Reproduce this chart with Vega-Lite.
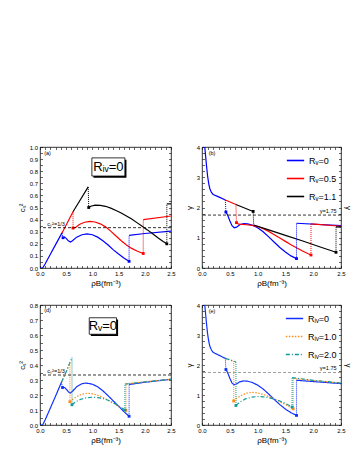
{
"$schema":"https://vega.github.io/schema/vega-lite/v6.json",
"background":"white",
"padding":{"left":17,"top":143,"right":2,"bottom":2},
"config":{"font":"Liberation Sans","view":{"stroke":"#000","strokeWidth":0.8},
"axis":{"grid":false,"domain":false,"tickColor":"#000","tickSize":-2.5,"tickWidth":0.6,"labelFontSize":6,"labelColor":"#000","titleFontSize":8,"titleFontWeight":"normal","titleColor":"#000","labelPadding":5,"titlePadding":3,"labelOverlap":false,"labelFlush":false},
"legend":{"orient":"top-right","title":null,"labelFontSize":9,"symbolType":"stroke","symbolStrokeWidth":1.6,"symbolSize":300,"rowPadding":3,"offset":4,"labelLimit":120,"labelColor":"#000"}},
"resolve":{"scale":{"color":"independent","strokeDash":"independent"},"legend":{"color":"independent","strokeDash":"independent"}},
"spacing":13,
"datasets":{
"a":[
{"s":"Rᵥ=0","g":1,"k":"c","x":0,"y":0},{"s":"Rᵥ=0","g":1,"k":"c","x":0.05,"y":0},{"s":"Rᵥ=0","g":1,"k":"c","x":0.1,"y":0.035},{"s":"Rᵥ=0","g":1,"k":"c","x":0.2,"y":0.115},{"s":"Rᵥ=0","g":1,"k":"c","x":0.3,"y":0.195},{"s":"Rᵥ=0","g":1,"k":"c","x":0.42,"y":0.29},
{"s":"Rᵥ=0","g":2,"k":"j","x":0.42,"y":0.29},{"s":"Rᵥ=0","g":2,"k":"j","x":0.44,"y":0.25},
{"s":"Rᵥ=0","g":3,"k":"c","x":0.44,"y":0.25},{"s":"Rᵥ=0","g":3,"k":"c","x":0.47,"y":0.255},{"s":"Rᵥ=0","g":3,"k":"c","x":0.5,"y":0.245},{"s":"Rᵥ=0","g":3,"k":"c","x":0.54,"y":0.225},{"s":"Rᵥ=0","g":3,"k":"c","x":0.58,"y":0.215},{"s":"Rᵥ=0","g":3,"k":"c","x":0.62,"y":0.225},{"s":"Rᵥ=0","g":3,"k":"c","x":0.7,"y":0.255},{"s":"Rᵥ=0","g":3,"k":"c","x":0.8,"y":0.275},{"s":"Rᵥ=0","g":3,"k":"c","x":0.9,"y":0.282},{"s":"Rᵥ=0","g":3,"k":"c","x":1.0,"y":0.275},{"s":"Rᵥ=0","g":3,"k":"c","x":1.1,"y":0.255},{"s":"Rᵥ=0","g":3,"k":"c","x":1.2,"y":0.225},{"s":"Rᵥ=0","g":3,"k":"c","x":1.3,"y":0.19},{"s":"Rᵥ=0","g":3,"k":"c","x":1.4,"y":0.15},{"s":"Rᵥ=0","g":3,"k":"c","x":1.5,"y":0.115},{"s":"Rᵥ=0","g":3,"k":"c","x":1.6,"y":0.082},{"s":"Rᵥ=0","g":3,"k":"c","x":1.7,"y":0.055},
{"s":"Rᵥ=0","g":4,"k":"j","x":1.7,"y":0.055},{"s":"Rᵥ=0","g":4,"k":"j","x":1.7,"y":0.27},
{"s":"Rᵥ=0","g":5,"k":"c","x":1.7,"y":0.27},{"s":"Rᵥ=0","g":5,"k":"c","x":2.0,"y":0.285},{"s":"Rᵥ=0","g":5,"k":"c","x":2.5,"y":0.305},
{"s":"Rᵥ=0","g":6,"k":"m","x":0.44,"y":0.25},{"s":"Rᵥ=0","g":6,"k":"m","x":1.7,"y":0.055},
{"s":"Rᵥ=0.5","g":1,"k":"c","x":0.42,"y":0.29},{"s":"Rᵥ=0.5","g":1,"k":"c","x":0.5,"y":0.355},{"s":"Rᵥ=0.5","g":1,"k":"c","x":0.63,"y":0.465},
{"s":"Rᵥ=0.5","g":2,"k":"j","x":0.63,"y":0.465},{"s":"Rᵥ=0.5","g":2,"k":"j","x":0.631,"y":0.33},
{"s":"Rᵥ=0.5","g":3,"k":"c","x":0.63,"y":0.33},{"s":"Rᵥ=0.5","g":3,"k":"c","x":0.68,"y":0.335},{"s":"Rᵥ=0.5","g":3,"k":"c","x":0.75,"y":0.36},{"s":"Rᵥ=0.5","g":3,"k":"c","x":0.85,"y":0.378},{"s":"Rᵥ=0.5","g":3,"k":"c","x":0.95,"y":0.385},{"s":"Rᵥ=0.5","g":3,"k":"c","x":1.05,"y":0.38},{"s":"Rᵥ=0.5","g":3,"k":"c","x":1.15,"y":0.365},{"s":"Rᵥ=0.5","g":3,"k":"c","x":1.25,"y":0.34},{"s":"Rᵥ=0.5","g":3,"k":"c","x":1.35,"y":0.305},{"s":"Rᵥ=0.5","g":3,"k":"c","x":1.45,"y":0.265},{"s":"Rᵥ=0.5","g":3,"k":"c","x":1.55,"y":0.225},{"s":"Rᵥ=0.5","g":3,"k":"c","x":1.65,"y":0.19},{"s":"Rᵥ=0.5","g":3,"k":"c","x":1.75,"y":0.162},{"s":"Rᵥ=0.5","g":3,"k":"c","x":1.85,"y":0.14},{"s":"Rᵥ=0.5","g":3,"k":"c","x":1.97,"y":0.12},
{"s":"Rᵥ=0.5","g":4,"k":"j","x":1.97,"y":0.12},{"s":"Rᵥ=0.5","g":4,"k":"j","x":1.971,"y":0.4},
{"s":"Rᵥ=0.5","g":5,"k":"c","x":1.97,"y":0.4},{"s":"Rᵥ=0.5","g":5,"k":"c","x":2.5,"y":0.43},
{"s":"Rᵥ=0.5","g":6,"k":"m","x":0.63,"y":0.33},{"s":"Rᵥ=0.5","g":6,"k":"m","x":1.97,"y":0.12},
{"s":"Rᵥ=1.1","g":1,"k":"c","x":0.63,"y":0.465},{"s":"Rᵥ=1.1","g":1,"k":"c","x":0.75,"y":0.55},{"s":"Rᵥ=1.1","g":1,"k":"c","x":0.92,"y":0.67},
{"s":"Rᵥ=1.1","g":2,"k":"j","x":0.92,"y":0.67},{"s":"Rᵥ=1.1","g":2,"k":"j","x":0.93,"y":0.5},
{"s":"Rᵥ=1.1","g":3,"k":"c","x":0.93,"y":0.5},{"s":"Rᵥ=1.1","g":3,"k":"c","x":0.97,"y":0.51},{"s":"Rᵥ=1.1","g":3,"k":"c","x":1.05,"y":0.52},{"s":"Rᵥ=1.1","g":3,"k":"c","x":1.15,"y":0.518},{"s":"Rᵥ=1.1","g":3,"k":"c","x":1.25,"y":0.51},{"s":"Rᵥ=1.1","g":3,"k":"c","x":1.35,"y":0.495},{"s":"Rᵥ=1.1","g":3,"k":"c","x":1.45,"y":0.475},{"s":"Rᵥ=1.1","g":3,"k":"c","x":1.55,"y":0.455},{"s":"Rᵥ=1.1","g":3,"k":"c","x":1.65,"y":0.43},{"s":"Rᵥ=1.1","g":3,"k":"c","x":1.75,"y":0.405},{"s":"Rᵥ=1.1","g":3,"k":"c","x":1.85,"y":0.375},{"s":"Rᵥ=1.1","g":3,"k":"c","x":1.95,"y":0.345},{"s":"Rᵥ=1.1","g":3,"k":"c","x":2.05,"y":0.315},{"s":"Rᵥ=1.1","g":3,"k":"c","x":2.15,"y":0.283},{"s":"Rᵥ=1.1","g":3,"k":"c","x":2.25,"y":0.25},{"s":"Rᵥ=1.1","g":3,"k":"c","x":2.35,"y":0.22},{"s":"Rᵥ=1.1","g":3,"k":"c","x":2.42,"y":0.2},
{"s":"Rᵥ=1.1","g":4,"k":"j","x":2.42,"y":0.2},{"s":"Rᵥ=1.1","g":4,"k":"j","x":2.421,"y":0.53},
{"s":"Rᵥ=1.1","g":5,"k":"c","x":2.42,"y":0.53},{"s":"Rᵥ=1.1","g":5,"k":"c","x":2.5,"y":0.53},
{"s":"Rᵥ=1.1","g":6,"k":"m","x":0.93,"y":0.5},{"s":"Rᵥ=1.1","g":6,"k":"m","x":2.42,"y":0.2}
],
"b":[
{"s":"Rᵥ=0","g":1,"k":"c","x":0.05,"y":4.0},{"s":"Rᵥ=0","g":1,"k":"c","x":0.065,"y":3.7},{"s":"Rᵥ=0","g":1,"k":"c","x":0.08,"y":3.4},{"s":"Rᵥ=0","g":1,"k":"c","x":0.1,"y":3.05},{"s":"Rᵥ=0","g":1,"k":"c","x":0.12,"y":2.8},{"s":"Rᵥ=0","g":1,"k":"c","x":0.14,"y":2.63},{"s":"Rᵥ=0","g":1,"k":"c","x":0.17,"y":2.5},{"s":"Rᵥ=0","g":1,"k":"c","x":0.2,"y":2.43},{"s":"Rᵥ=0","g":1,"k":"c","x":0.3,"y":2.35},{"s":"Rᵥ=0","g":1,"k":"c","x":0.42,"y":2.25},
{"s":"Rᵥ=0","g":2,"k":"j","x":0.42,"y":2.25},{"s":"Rᵥ=0","g":2,"k":"j","x":0.43,"y":1.85},
{"s":"Rᵥ=0","g":3,"k":"c","x":0.43,"y":1.85},{"s":"Rᵥ=0","g":3,"k":"c","x":0.46,"y":1.75},{"s":"Rᵥ=0","g":3,"k":"c","x":0.5,"y":1.56},{"s":"Rᵥ=0","g":3,"k":"c","x":0.54,"y":1.4},{"s":"Rᵥ=0","g":3,"k":"c","x":0.58,"y":1.33},{"s":"Rᵥ=0","g":3,"k":"c","x":0.62,"y":1.35},{"s":"Rᵥ=0","g":3,"k":"c","x":0.68,"y":1.43},{"s":"Rᵥ=0","g":3,"k":"c","x":0.75,"y":1.47},{"s":"Rᵥ=0","g":3,"k":"c","x":0.82,"y":1.46},{"s":"Rᵥ=0","g":3,"k":"c","x":0.9,"y":1.42},{"s":"Rᵥ=0","g":3,"k":"c","x":1.0,"y":1.33},{"s":"Rᵥ=0","g":3,"k":"c","x":1.1,"y":1.2},{"s":"Rᵥ=0","g":3,"k":"c","x":1.2,"y":1.03},{"s":"Rᵥ=0","g":3,"k":"c","x":1.3,"y":0.85},{"s":"Rᵥ=0","g":3,"k":"c","x":1.4,"y":0.68},{"s":"Rᵥ=0","g":3,"k":"c","x":1.5,"y":0.53},{"s":"Rᵥ=0","g":3,"k":"c","x":1.6,"y":0.4},{"s":"Rᵥ=0","g":3,"k":"c","x":1.7,"y":0.31},
{"s":"Rᵥ=0","g":4,"k":"j","x":1.7,"y":0.31},{"s":"Rᵥ=0","g":4,"k":"j","x":1.701,"y":1.48},
{"s":"Rᵥ=0","g":5,"k":"c","x":1.7,"y":1.48},{"s":"Rᵥ=0","g":5,"k":"c","x":2.5,"y":1.4},
{"s":"Rᵥ=0","g":6,"k":"m","x":0.43,"y":1.85},{"s":"Rᵥ=0","g":6,"k":"m","x":1.7,"y":0.31},
{"s":"Rᵥ=0.5","g":1,"k":"c","x":0.42,"y":2.25},{"s":"Rᵥ=0.5","g":1,"k":"c","x":0.61,"y":2.1},
{"s":"Rᵥ=0.5","g":2,"k":"j","x":0.61,"y":2.1},{"s":"Rᵥ=0.5","g":2,"k":"j","x":0.62,"y":1.5},
{"s":"Rᵥ=0.5","g":3,"k":"c","x":0.62,"y":1.5},{"s":"Rᵥ=0.5","g":3,"k":"c","x":0.66,"y":1.45},{"s":"Rᵥ=0.5","g":3,"k":"c","x":0.72,"y":1.44},{"s":"Rᵥ=0.5","g":3,"k":"c","x":0.8,"y":1.43},{"s":"Rᵥ=0.5","g":3,"k":"c","x":0.9,"y":1.41},{"s":"Rᵥ=0.5","g":3,"k":"c","x":1.0,"y":1.37},{"s":"Rᵥ=0.5","g":3,"k":"c","x":1.1,"y":1.3},{"s":"Rᵥ=0.5","g":3,"k":"c","x":1.2,"y":1.21},{"s":"Rᵥ=0.5","g":3,"k":"c","x":1.3,"y":1.1},{"s":"Rᵥ=0.5","g":3,"k":"c","x":1.4,"y":0.99},{"s":"Rᵥ=0.5","g":3,"k":"c","x":1.5,"y":0.88},{"s":"Rᵥ=0.5","g":3,"k":"c","x":1.6,"y":0.77},{"s":"Rᵥ=0.5","g":3,"k":"c","x":1.7,"y":0.67},{"s":"Rᵥ=0.5","g":3,"k":"c","x":1.8,"y":0.57},{"s":"Rᵥ=0.5","g":3,"k":"c","x":1.9,"y":0.48},{"s":"Rᵥ=0.5","g":3,"k":"c","x":1.96,"y":0.43},
{"s":"Rᵥ=0.5","g":4,"k":"j","x":1.96,"y":0.43},{"s":"Rᵥ=0.5","g":4,"k":"j","x":1.961,"y":1.46},
{"s":"Rᵥ=0.5","g":5,"k":"c","x":1.96,"y":1.46},{"s":"Rᵥ=0.5","g":5,"k":"c","x":2.5,"y":1.38},
{"s":"Rᵥ=0.5","g":6,"k":"m","x":0.62,"y":1.5},{"s":"Rᵥ=0.5","g":6,"k":"m","x":1.96,"y":0.43},
{"s":"Rᵥ=1.1","g":1,"k":"c","x":0.61,"y":2.1},{"s":"Rᵥ=1.1","g":1,"k":"c","x":0.92,"y":1.87},
{"s":"Rᵥ=1.1","g":2,"k":"j","x":0.92,"y":1.87},{"s":"Rᵥ=1.1","g":2,"k":"j","x":0.93,"y":1.42},
{"s":"Rᵥ=1.1","g":3,"k":"c","x":0.93,"y":1.42},{"s":"Rᵥ=1.1","g":3,"k":"c","x":1.2,"y":1.26},{"s":"Rᵥ=1.1","g":3,"k":"c","x":1.5,"y":1.08},{"s":"Rᵥ=1.1","g":3,"k":"c","x":1.8,"y":0.9},{"s":"Rᵥ=1.1","g":3,"k":"c","x":2.1,"y":0.71},{"s":"Rᵥ=1.1","g":3,"k":"c","x":2.41,"y":0.52},
{"s":"Rᵥ=1.1","g":4,"k":"j","x":2.41,"y":0.52},{"s":"Rᵥ=1.1","g":4,"k":"j","x":2.411,"y":1.36},
{"s":"Rᵥ=1.1","g":5,"k":"c","x":2.41,"y":1.36},{"s":"Rᵥ=1.1","g":5,"k":"c","x":2.5,"y":1.35},
{"s":"Rᵥ=1.1","g":6,"k":"m","x":0.92,"y":1.87},{"s":"Rᵥ=1.1","g":6,"k":"m","x":2.41,"y":0.52}
],
"d":[
{"s":"Rᵢᵥ=0","g":1,"k":"c","x":0,"y":0},{"s":"Rᵢᵥ=0","g":1,"k":"c","x":0.05,"y":0},{"s":"Rᵢᵥ=0","g":1,"k":"c","x":0.1,"y":0.035},{"s":"Rᵢᵥ=0","g":1,"k":"c","x":0.2,"y":0.115},{"s":"Rᵢᵥ=0","g":1,"k":"c","x":0.3,"y":0.195},{"s":"Rᵢᵥ=0","g":1,"k":"c","x":0.41,"y":0.285},
{"s":"Rᵢᵥ=0","g":2,"k":"j","x":0.41,"y":0.285},{"s":"Rᵢᵥ=0","g":2,"k":"j","x":0.43,"y":0.25},
{"s":"Rᵢᵥ=0","g":3,"k":"c","x":0.43,"y":0.25},{"s":"Rᵢᵥ=0","g":3,"k":"c","x":0.47,"y":0.25},{"s":"Rᵢᵥ=0","g":3,"k":"c","x":0.51,"y":0.235},{"s":"Rᵢᵥ=0","g":3,"k":"c","x":0.55,"y":0.218},{"s":"Rᵢᵥ=0","g":3,"k":"c","x":0.58,"y":0.213},{"s":"Rᵢᵥ=0","g":3,"k":"c","x":0.62,"y":0.225},{"s":"Rᵢᵥ=0","g":3,"k":"c","x":0.7,"y":0.255},{"s":"Rᵢᵥ=0","g":3,"k":"c","x":0.8,"y":0.275},{"s":"Rᵢᵥ=0","g":3,"k":"c","x":0.88,"y":0.28},{"s":"Rᵢᵥ=0","g":3,"k":"c","x":1.0,"y":0.272},{"s":"Rᵢᵥ=0","g":3,"k":"c","x":1.1,"y":0.255},{"s":"Rᵢᵥ=0","g":3,"k":"c","x":1.2,"y":0.228},{"s":"Rᵢᵥ=0","g":3,"k":"c","x":1.3,"y":0.195},{"s":"Rᵢᵥ=0","g":3,"k":"c","x":1.4,"y":0.16},{"s":"Rᵢᵥ=0","g":3,"k":"c","x":1.5,"y":0.125},{"s":"Rᵢᵥ=0","g":3,"k":"c","x":1.6,"y":0.09},{"s":"Rᵢᵥ=0","g":3,"k":"c","x":1.7,"y":0.058},
{"s":"Rᵢᵥ=0","g":4,"k":"j","x":1.7,"y":0.058},{"s":"Rᵢᵥ=0","g":4,"k":"j","x":1.701,"y":0.27},
{"s":"Rᵢᵥ=0","g":5,"k":"c","x":1.7,"y":0.27},{"s":"Rᵢᵥ=0","g":5,"k":"c","x":2.0,"y":0.285},{"s":"Rᵢᵥ=0","g":5,"k":"c","x":2.5,"y":0.305},
{"s":"Rᵢᵥ=0","g":6,"k":"m","x":0.43,"y":0.25},{"s":"Rᵢᵥ=0","g":6,"k":"m","x":1.7,"y":0.058},
{"s":"Rᵢᵥ=1.0","g":1,"k":"c","x":0.41,"y":0.285},{"s":"Rᵢᵥ=1.0","g":1,"k":"c","x":0.5,"y":0.355},{"s":"Rᵢᵥ=1.0","g":1,"k":"c","x":0.57,"y":0.415},
{"s":"Rᵢᵥ=1.0","g":2,"k":"j","x":0.57,"y":0.415},{"s":"Rᵢᵥ=1.0","g":2,"k":"j","x":0.571,"y":0.155},
{"s":"Rᵢᵥ=1.0","g":3,"k":"c","x":0.57,"y":0.155},{"s":"Rᵢᵥ=1.0","g":3,"k":"c","x":0.62,"y":0.17},{"s":"Rᵢᵥ=1.0","g":3,"k":"c","x":0.7,"y":0.19},{"s":"Rᵢᵥ=1.0","g":3,"k":"c","x":0.8,"y":0.205},{"s":"Rᵢᵥ=1.0","g":3,"k":"c","x":0.9,"y":0.212},{"s":"Rᵢᵥ=1.0","g":3,"k":"c","x":1.0,"y":0.208},{"s":"Rᵢᵥ=1.0","g":3,"k":"c","x":1.1,"y":0.198},{"s":"Rᵢᵥ=1.0","g":3,"k":"c","x":1.2,"y":0.183},{"s":"Rᵢᵥ=1.0","g":3,"k":"c","x":1.3,"y":0.165},{"s":"Rᵢᵥ=1.0","g":3,"k":"c","x":1.4,"y":0.145},{"s":"Rᵢᵥ=1.0","g":3,"k":"c","x":1.5,"y":0.125},{"s":"Rᵢᵥ=1.0","g":3,"k":"c","x":1.58,"y":0.108},{"s":"Rᵢᵥ=1.0","g":3,"k":"c","x":1.64,"y":0.098},
{"s":"Rᵢᵥ=1.0","g":4,"k":"j","x":1.64,"y":0.098},{"s":"Rᵢᵥ=1.0","g":4,"k":"j","x":1.641,"y":0.275},
{"s":"Rᵢᵥ=1.0","g":5,"k":"c","x":1.64,"y":0.275},{"s":"Rᵢᵥ=1.0","g":5,"k":"c","x":2.0,"y":0.288},{"s":"Rᵢᵥ=1.0","g":5,"k":"c","x":2.5,"y":0.305},
{"s":"Rᵢᵥ=1.0","g":6,"k":"m","x":0.57,"y":0.155},{"s":"Rᵢᵥ=1.0","g":6,"k":"m","x":1.64,"y":0.098},
{"s":"Rᵢᵥ=2.0","g":1,"k":"c","x":0.41,"y":0.285},{"s":"Rᵢᵥ=2.0","g":1,"k":"c","x":0.5,"y":0.355},{"s":"Rᵢᵥ=2.0","g":1,"k":"c","x":0.61,"y":0.45},
{"s":"Rᵢᵥ=2.0","g":2,"k":"j","x":0.61,"y":0.45},{"s":"Rᵢᵥ=2.0","g":2,"k":"j","x":0.611,"y":0.135},
{"s":"Rᵢᵥ=2.0","g":3,"k":"c","x":0.61,"y":0.135},{"s":"Rᵢᵥ=2.0","g":3,"k":"c","x":0.68,"y":0.155},{"s":"Rᵢᵥ=2.0","g":3,"k":"c","x":0.78,"y":0.172},{"s":"Rᵢᵥ=2.0","g":3,"k":"c","x":0.9,"y":0.182},{"s":"Rᵢᵥ=2.0","g":3,"k":"c","x":1.0,"y":0.185},{"s":"Rᵢᵥ=2.0","g":3,"k":"c","x":1.1,"y":0.183},{"s":"Rᵢᵥ=2.0","g":3,"k":"c","x":1.2,"y":0.177},{"s":"Rᵢᵥ=2.0","g":3,"k":"c","x":1.3,"y":0.165},{"s":"Rᵢᵥ=2.0","g":3,"k":"c","x":1.4,"y":0.148},{"s":"Rᵢᵥ=2.0","g":3,"k":"c","x":1.5,"y":0.128},{"s":"Rᵢᵥ=2.0","g":3,"k":"c","x":1.62,"y":0.1},
{"s":"Rᵢᵥ=2.0","g":4,"k":"j","x":1.62,"y":0.1},{"s":"Rᵢᵥ=2.0","g":4,"k":"j","x":1.621,"y":0.272},
{"s":"Rᵢᵥ=2.0","g":5,"k":"c","x":1.62,"y":0.272},{"s":"Rᵢᵥ=2.0","g":5,"k":"c","x":2.0,"y":0.287},{"s":"Rᵢᵥ=2.0","g":5,"k":"c","x":2.5,"y":0.305},
{"s":"Rᵢᵥ=2.0","g":6,"k":"m","x":0.61,"y":0.135},{"s":"Rᵢᵥ=2.0","g":6,"k":"m","x":1.62,"y":0.1}
],
"e":[
{"s":"Rᵢᵥ=0","g":1,"k":"c","x":0.05,"y":4.0},{"s":"Rᵢᵥ=0","g":1,"k":"c","x":0.065,"y":3.7},{"s":"Rᵢᵥ=0","g":1,"k":"c","x":0.08,"y":3.4},{"s":"Rᵢᵥ=0","g":1,"k":"c","x":0.1,"y":3.05},{"s":"Rᵢᵥ=0","g":1,"k":"c","x":0.12,"y":2.8},{"s":"Rᵢᵥ=0","g":1,"k":"c","x":0.14,"y":2.63},{"s":"Rᵢᵥ=0","g":1,"k":"c","x":0.17,"y":2.5},{"s":"Rᵢᵥ=0","g":1,"k":"c","x":0.2,"y":2.42},{"s":"Rᵢᵥ=0","g":1,"k":"c","x":0.3,"y":2.33},{"s":"Rᵢᵥ=0","g":1,"k":"c","x":0.42,"y":2.22},
{"s":"Rᵢᵥ=0","g":2,"k":"j","x":0.42,"y":2.22},{"s":"Rᵢᵥ=0","g":2,"k":"j","x":0.43,"y":1.85},
{"s":"Rᵢᵥ=0","g":3,"k":"c","x":0.43,"y":1.85},{"s":"Rᵢᵥ=0","g":3,"k":"c","x":0.46,"y":1.75},{"s":"Rᵢᵥ=0","g":3,"k":"c","x":0.5,"y":1.56},{"s":"Rᵢᵥ=0","g":3,"k":"c","x":0.54,"y":1.4},{"s":"Rᵢᵥ=0","g":3,"k":"c","x":0.58,"y":1.34},{"s":"Rᵢᵥ=0","g":3,"k":"c","x":0.62,"y":1.37},{"s":"Rᵢᵥ=0","g":3,"k":"c","x":0.68,"y":1.44},{"s":"Rᵢᵥ=0","g":3,"k":"c","x":0.75,"y":1.47},{"s":"Rᵢᵥ=0","g":3,"k":"c","x":0.82,"y":1.46},{"s":"Rᵢᵥ=0","g":3,"k":"c","x":0.9,"y":1.42},{"s":"Rᵢᵥ=0","g":3,"k":"c","x":1.0,"y":1.33},{"s":"Rᵢᵥ=0","g":3,"k":"c","x":1.1,"y":1.2},{"s":"Rᵢᵥ=0","g":3,"k":"c","x":1.2,"y":1.03},{"s":"Rᵢᵥ=0","g":3,"k":"c","x":1.3,"y":0.85},{"s":"Rᵢᵥ=0","g":3,"k":"c","x":1.4,"y":0.68},{"s":"Rᵢᵥ=0","g":3,"k":"c","x":1.5,"y":0.53},{"s":"Rᵢᵥ=0","g":3,"k":"c","x":1.6,"y":0.41},{"s":"Rᵢᵥ=0","g":3,"k":"c","x":1.7,"y":0.32},
{"s":"Rᵢᵥ=0","g":4,"k":"j","x":1.7,"y":0.32},{"s":"Rᵢᵥ=0","g":4,"k":"j","x":1.701,"y":1.49},
{"s":"Rᵢᵥ=0","g":5,"k":"c","x":1.7,"y":1.49},{"s":"Rᵢᵥ=0","g":5,"k":"c","x":2.5,"y":1.38},
{"s":"Rᵢᵥ=0","g":6,"k":"m","x":0.43,"y":1.85},{"s":"Rᵢᵥ=0","g":6,"k":"m","x":1.7,"y":0.32},
{"s":"Rᵢᵥ=1.0","g":1,"k":"c","x":0.42,"y":2.22},{"s":"Rᵢᵥ=1.0","g":1,"k":"c","x":0.57,"y":2.13},
{"s":"Rᵢᵥ=1.0","g":2,"k":"j","x":0.57,"y":2.13},{"s":"Rᵢᵥ=1.0","g":2,"k":"j","x":0.571,"y":0.8},
{"s":"Rᵢᵥ=1.0","g":3,"k":"c","x":0.57,"y":0.8},{"s":"Rᵢᵥ=1.0","g":3,"k":"c","x":0.62,"y":0.88},{"s":"Rᵢᵥ=1.0","g":3,"k":"c","x":0.7,"y":0.98},{"s":"Rᵢᵥ=1.0","g":3,"k":"c","x":0.8,"y":1.06},{"s":"Rᵢᵥ=1.0","g":3,"k":"c","x":0.9,"y":1.09},{"s":"Rᵢᵥ=1.0","g":3,"k":"c","x":1.0,"y":1.07},{"s":"Rᵢᵥ=1.0","g":3,"k":"c","x":1.1,"y":1.02},{"s":"Rᵢᵥ=1.0","g":3,"k":"c","x":1.2,"y":0.95},{"s":"Rᵢᵥ=1.0","g":3,"k":"c","x":1.3,"y":0.87},{"s":"Rᵢᵥ=1.0","g":3,"k":"c","x":1.4,"y":0.78},{"s":"Rᵢᵥ=1.0","g":3,"k":"c","x":1.5,"y":0.68},{"s":"Rᵢᵥ=1.0","g":3,"k":"c","x":1.58,"y":0.6},{"s":"Rᵢᵥ=1.0","g":3,"k":"c","x":1.64,"y":0.54},
{"s":"Rᵢᵥ=1.0","g":4,"k":"j","x":1.64,"y":0.54},{"s":"Rᵢᵥ=1.0","g":4,"k":"j","x":1.641,"y":1.55},
{"s":"Rᵢᵥ=1.0","g":5,"k":"c","x":1.64,"y":1.55},{"s":"Rᵢᵥ=1.0","g":5,"k":"c","x":2.0,"y":1.48},{"s":"Rᵢᵥ=1.0","g":5,"k":"c","x":2.5,"y":1.4},
{"s":"Rᵢᵥ=1.0","g":6,"k":"m","x":0.57,"y":0.8},{"s":"Rᵢᵥ=1.0","g":6,"k":"m","x":1.64,"y":0.54},
{"s":"Rᵢᵥ=2.0","g":1,"k":"c","x":0.42,"y":2.22},{"s":"Rᵢᵥ=2.0","g":1,"k":"c","x":0.61,"y":2.1},
{"s":"Rᵢᵥ=2.0","g":2,"k":"j","x":0.61,"y":2.1},{"s":"Rᵢᵥ=2.0","g":2,"k":"j","x":0.611,"y":0.65},
{"s":"Rᵢᵥ=2.0","g":3,"k":"c","x":0.61,"y":0.65},{"s":"Rᵢᵥ=2.0","g":3,"k":"c","x":0.68,"y":0.76},{"s":"Rᵢᵥ=2.0","g":3,"k":"c","x":0.78,"y":0.87},{"s":"Rᵢᵥ=2.0","g":3,"k":"c","x":0.9,"y":0.93},{"s":"Rᵢᵥ=2.0","g":3,"k":"c","x":1.0,"y":0.95},{"s":"Rᵢᵥ=2.0","g":3,"k":"c","x":1.1,"y":0.94},{"s":"Rᵢᵥ=2.0","g":3,"k":"c","x":1.2,"y":0.91},{"s":"Rᵢᵥ=2.0","g":3,"k":"c","x":1.3,"y":0.86},{"s":"Rᵢᵥ=2.0","g":3,"k":"c","x":1.4,"y":0.8},{"s":"Rᵢᵥ=2.0","g":3,"k":"c","x":1.5,"y":0.72},{"s":"Rᵢᵥ=2.0","g":3,"k":"c","x":1.62,"y":0.6},
{"s":"Rᵢᵥ=2.0","g":4,"k":"j","x":1.62,"y":0.6},{"s":"Rᵢᵥ=2.0","g":4,"k":"j","x":1.621,"y":1.58},
{"s":"Rᵢᵥ=2.0","g":5,"k":"c","x":1.62,"y":1.58},{"s":"Rᵢᵥ=2.0","g":5,"k":"c","x":2.0,"y":1.49},{"s":"Rᵢᵥ=2.0","g":5,"k":"c","x":2.5,"y":1.4},
{"s":"Rᵢᵥ=2.0","g":6,"k":"m","x":0.61,"y":0.65},{"s":"Rᵢᵥ=2.0","g":6,"k":"m","x":1.62,"y":0.6}
]
},
"vconcat":[
{"resolve":{"scale":{"color":"independent","strokeDash":"independent"},"legend":{"color":"independent","strokeDash":"independent"}},
"hconcat":[
{"width":131,"height":121,"resolve":{"axis":{"x":"independent","y":"independent"}},
"layer":[
{"data":{"name":"a"},"transform":[{"filter":"datum.k=='c'"}],"mark":{"type":"line","strokeWidth":1.2,"clip":true},
"encoding":{"x":{"field":"x","type":"quantitative","scale":{"domain":[0,2.5],"nice":false},"title":"ρB(fm⁻³)","axis":{"orient":"bottom","values":[0,0.1,0.2,0.3,0.4,0.5,0.6,0.7,0.8,0.9,1,1.1,1.2,1.3,1.4,1.5,1.6,1.7,1.8,1.9,2,2.1,2.2,2.3,2.4,2.5],"labelExpr":"abs(datum.value*2-round(datum.value*2))<0.01 ? format(datum.value,'.1f') : ''"}},
"y":{"field":"y","type":"quantitative","scale":{"domain":[0,1],"nice":false},"title":"cₛ²","axis":{"orient":"left","values":[0,0.05,0.1,0.15,0.2,0.25,0.3,0.35,0.4,0.45,0.5,0.55,0.6,0.65,0.7,0.75,0.8,0.85,0.9,0.95,1],"labelExpr":"abs(datum.value*10-round(datum.value*10))<0.01 ? format(datum.value,'.1f') : ''"}},
"color":{"field":"s","type":"nominal","scale":{"domain":["Rᵥ=0","Rᵥ=0.5","Rᵥ=1.1"],"range":["#0000ff","#ff0000","#000000"]},"legend":null},
"detail":{"field":"g"}}},
{"data":{"name":"a"},"transform":[{"filter":"datum.k=='j'"}],"mark":{"type":"line","strokeWidth":1,"strokeDash":[1,1]},
"encoding":{"x":{"field":"x","type":"quantitative","scale":{"domain":[0,2.5],"nice":false},"axis":null},"y":{"field":"y","type":"quantitative","scale":{"domain":[0,1],"nice":false},"axis":null},
"color":{"field":"s","type":"nominal","legend":null},"detail":{"field":"g"}}},
{"data":{"name":"a"},"transform":[{"filter":"datum.k=='m'"}],"mark":{"type":"point","shape":"square","filled":true,"size":8,"opacity":1},
"encoding":{"x":{"field":"x","type":"quantitative","scale":{"domain":[0,2.5],"nice":false},"axis":{"orient":"top","labels":false,"title":null,"values":[0,0.1,0.2,0.3,0.4,0.5,0.6,0.7,0.8,0.9,1,1.1,1.2,1.3,1.4,1.5,1.6,1.7,1.8,1.9,2,2.1,2.2,2.3,2.4,2.5]}},
"y":{"field":"y","type":"quantitative","scale":{"domain":[0,1],"nice":false},"axis":{"orient":"right","labels":false,"title":null,"values":[0,0.05,0.1,0.15,0.2,0.25,0.3,0.35,0.4,0.45,0.5,0.55,0.6,0.65,0.7,0.75,0.8,0.85,0.9,0.95,1]}},
"color":{"field":"s","type":"nominal","legend":null}}},
{"data":{"values":[{"v":0.3333}]},"mark":{"type":"rule","strokeDash":[3,2],"strokeWidth":0.8,"color":"#000"},
"encoding":{"y":{"field":"v","type":"quantitative","scale":{"domain":[0,1],"nice":false},"axis":null}}},
{"data":{"values":[{"x":1.02,"x2":1.65,"y":0.745,"y2":0.895}]},"mark":{"type":"rect","fill":"#000"},
"encoding":{"x":{"field":"x","type":"quantitative","scale":{"domain":[0,2.5],"nice":false},"axis":null},"x2":{"field":"x2"},"y":{"field":"y","type":"quantitative","scale":{"domain":[0,1],"nice":false},"axis":null},"y2":{"field":"y2"}}},
{"data":{"values":[{"x":0.99,"x2":1.62,"y":0.76,"y2":0.91}]},"mark":{"type":"rect","fill":"#fff","stroke":"#000","strokeWidth":0.8},
"encoding":{"x":{"field":"x","type":"quantitative","scale":{"domain":[0,2.5],"nice":false},"axis":null},"x2":{"field":"x2"},"y":{"field":"y","type":"quantitative","scale":{"domain":[0,1],"nice":false},"axis":null},"y2":{"field":"y2"}}},
{"data":{"values":[{"x":0.08,"y":0.95,"t":"(a)"},{"x":0.14,"y":0.365,"t":"cₛ²=1/3"}]},
"mark":{"type":"text","fontSize":5.5,"align":"left","baseline":"middle","color":"#000"},
"encoding":{"x":{"field":"x","type":"quantitative","scale":{"domain":[0,2.5],"nice":false},"axis":null},"y":{"field":"y","type":"quantitative","scale":{"domain":[0,1],"nice":false},"axis":null},"text":{"field":"t"}}},
{"data":{"values":[{"x":1.305,"y":0.835,"t":"Rᵢᵥ=0"}]},
"mark":{"type":"text","fontSize":13,"align":"center","baseline":"middle","color":"#000"},
"encoding":{"x":{"field":"x","type":"quantitative","scale":{"domain":[0,2.5],"nice":false},"axis":null},"y":{"field":"y","type":"quantitative","scale":{"domain":[0,1],"nice":false},"axis":null},"text":{"field":"t"}}}
]},
{"width":139,"height":121,"resolve":{"axis":{"x":"independent","y":"independent"}},
"layer":[
{"data":{"name":"b"},"transform":[{"filter":"datum.k=='c'"}],"mark":{"type":"line","strokeWidth":1.2,"clip":true},
"encoding":{"x":{"field":"x","type":"quantitative","scale":{"domain":[0,2.5],"nice":false},"title":"ρB(fm⁻³)","axis":{"orient":"bottom","values":[0,0.1,0.2,0.3,0.4,0.5,0.6,0.7,0.8,0.9,1,1.1,1.2,1.3,1.4,1.5,1.6,1.7,1.8,1.9,2,2.1,2.2,2.3,2.4,2.5],"labelExpr":"abs(datum.value*2-round(datum.value*2))<0.01 ? format(datum.value,'.1f') : ''"}},
"y":{"field":"y","type":"quantitative","scale":{"domain":[0,4],"nice":false},"title":"γ","axis":{"orient":"left","values":[0,0.2,0.4,0.6,0.8,1,1.2,1.4,1.6,1.8,2,2.2,2.4,2.6,2.8,3,3.2,3.4,3.6,3.8,4],"labelExpr":"abs(datum.value-round(datum.value))<0.01 ? format(datum.value,'d') : ''"}},
"color":{"field":"s","type":"nominal","scale":{"domain":["Rᵥ=0","Rᵥ=0.5","Rᵥ=1.1"],"range":["#0000ff","#ff0000","#000000"]},"legend":{"orient":"top-right"}},
"detail":{"field":"g"}}},
{"data":{"name":"b"},"transform":[{"filter":"datum.k=='j'"}],"mark":{"type":"line","strokeWidth":1,"strokeDash":[1,1]},
"encoding":{"x":{"field":"x","type":"quantitative","scale":{"domain":[0,2.5],"nice":false},"axis":null},"y":{"field":"y","type":"quantitative","scale":{"domain":[0,4],"nice":false},"axis":null},
"color":{"field":"s","type":"nominal"},"detail":{"field":"g"}}},
{"data":{"name":"b"},"transform":[{"filter":"datum.k=='m'"}],"mark":{"type":"point","shape":"square","filled":true,"size":8,"opacity":1},
"encoding":{"x":{"field":"x","type":"quantitative","scale":{"domain":[0,2.5],"nice":false},"axis":{"orient":"top","labels":false,"title":null,"values":[0,0.1,0.2,0.3,0.4,0.5,0.6,0.7,0.8,0.9,1,1.1,1.2,1.3,1.4,1.5,1.6,1.7,1.8,1.9,2,2.1,2.2,2.3,2.4,2.5]}},
"y":{"field":"y","type":"quantitative","scale":{"domain":[0,4],"nice":false},"axis":{"orient":"right","labels":false,"title":"γ","titlePadding":2,"values":[0,0.2,0.4,0.6,0.8,1,1.2,1.4,1.6,1.8,2,2.2,2.4,2.6,2.8,3,3.2,3.4,3.6,3.8,4]}},
"color":{"field":"s","type":"nominal"}}},
{"data":{"values":[{"v":1.75}]},"mark":{"type":"rule","strokeDash":[3,2],"strokeWidth":0.8,"color":"#000"},
"encoding":{"y":{"field":"v","type":"quantitative","scale":{"domain":[0,4],"nice":false},"axis":null}}},
{"data":{"values":[{"x":0.12,"y":3.8,"t":"(b)"},{"x":2.12,"y":1.9,"t":"γ=1.75"}]},
"mark":{"type":"text","fontSize":5.5,"align":"left","baseline":"middle","color":"#000"},
"encoding":{"x":{"field":"x","type":"quantitative","scale":{"domain":[0,2.5],"nice":false},"axis":null},"y":{"field":"y","type":"quantitative","scale":{"domain":[0,4],"nice":false},"axis":null},"text":{"field":"t"}}}
]}
],"spacing":8},
{"resolve":{"scale":{"color":"independent","strokeDash":"independent"},"legend":{"color":"independent","strokeDash":"independent"}},
"hconcat":[
{"width":131,"height":120,"resolve":{"axis":{"x":"independent","y":"independent"}},
"layer":[
{"data":{"name":"d"},"transform":[{"filter":"datum.k=='c'"}],"mark":{"type":"line","strokeWidth":1.2,"clip":true},
"encoding":{"x":{"field":"x","type":"quantitative","scale":{"domain":[0,2.5],"nice":false},"title":"ρB(fm⁻³)","axis":{"orient":"bottom","values":[0,0.1,0.2,0.3,0.4,0.5,0.6,0.7,0.8,0.9,1,1.1,1.2,1.3,1.4,1.5,1.6,1.7,1.8,1.9,2,2.1,2.2,2.3,2.4,2.5],"labelExpr":"abs(datum.value*2-round(datum.value*2))<0.01 ? format(datum.value,'.1f') : ''"}},
"y":{"field":"y","type":"quantitative","scale":{"domain":[0,0.8],"nice":false},"title":"cₛ²","axis":{"orient":"left","values":[0,0.05,0.1,0.15,0.2,0.25,0.3,0.35,0.4,0.45,0.5,0.55,0.6,0.65,0.7,0.75,0.8],"labelExpr":"abs(datum.value*10-round(datum.value*10))<0.01 ? format(datum.value,'.1f') : ''"}},
"color":{"field":"s","type":"nominal","scale":{"domain":["Rᵢᵥ=0","Rᵢᵥ=1.0","Rᵢᵥ=2.0"],"range":["#1030ff","#ff8c1a","#109a9a"]},"legend":null},
"strokeDash":{"field":"s","type":"nominal","scale":{"domain":["Rᵢᵥ=0","Rᵢᵥ=1.0","Rᵢᵥ=2.0"],"range":[[1,0],[1.5,1.5],[4,2,1,2]]},"legend":null},
"detail":{"field":"g"}}},
{"data":{"name":"d"},"transform":[{"filter":"datum.k=='j'"}],"mark":{"type":"line","strokeWidth":1,"strokeDash":[1,1]},
"encoding":{"x":{"field":"x","type":"quantitative","scale":{"domain":[0,2.5],"nice":false},"axis":null},"y":{"field":"y","type":"quantitative","scale":{"domain":[0,0.8],"nice":false},"axis":null},
"color":{"field":"s","type":"nominal","legend":null},"detail":{"field":"g"}}},
{"data":{"name":"d"},"transform":[{"filter":"datum.k=='m'"}],"mark":{"type":"point","shape":"square","filled":true,"size":8,"opacity":1},
"encoding":{"x":{"field":"x","type":"quantitative","scale":{"domain":[0,2.5],"nice":false},"axis":{"orient":"top","labels":false,"title":null,"values":[0,0.1,0.2,0.3,0.4,0.5,0.6,0.7,0.8,0.9,1,1.1,1.2,1.3,1.4,1.5,1.6,1.7,1.8,1.9,2,2.1,2.2,2.3,2.4,2.5]}},
"y":{"field":"y","type":"quantitative","scale":{"domain":[0,0.8],"nice":false},"axis":{"orient":"right","labels":false,"title":null,"values":[0,0.05,0.1,0.15,0.2,0.25,0.3,0.35,0.4,0.45,0.5,0.55,0.6,0.65,0.7,0.75,0.8]}},
"color":{"field":"s","type":"nominal","legend":null}}},
{"data":{"values":[{"v":0.3333}]},"mark":{"type":"rule","strokeDash":[3,2],"strokeWidth":0.8,"color":"#000"},
"encoding":{"y":{"field":"v","type":"quantitative","scale":{"domain":[0,0.8],"nice":false},"axis":null}}},
{"data":{"values":[{"x":0.97,"x2":1.49,"y":0.593,"y2":0.703}]},"mark":{"type":"rect","fill":"#000"},
"encoding":{"x":{"field":"x","type":"quantitative","scale":{"domain":[0,2.5],"nice":false},"axis":null},"x2":{"field":"x2"},"y":{"field":"y","type":"quantitative","scale":{"domain":[0,0.8],"nice":false},"axis":null},"y2":{"field":"y2"}}},
{"data":{"values":[{"x":0.94,"x2":1.46,"y":0.605,"y2":0.715}]},"mark":{"type":"rect","fill":"#fff","stroke":"#000","strokeWidth":0.8},
"encoding":{"x":{"field":"x","type":"quantitative","scale":{"domain":[0,2.5],"nice":false},"axis":null},"x2":{"field":"x2"},"y":{"field":"y","type":"quantitative","scale":{"domain":[0,0.8],"nice":false},"axis":null},"y2":{"field":"y2"}}},
{"data":{"values":[{"x":0.08,"y":0.765,"t":"(d)"},{"x":0.14,"y":0.36,"t":"cₛ²=1/3"}]},
"mark":{"type":"text","fontSize":5.5,"align":"left","baseline":"middle","color":"#000"},
"encoding":{"x":{"field":"x","type":"quantitative","scale":{"domain":[0,2.5],"nice":false},"axis":null},"y":{"field":"y","type":"quantitative","scale":{"domain":[0,0.8],"nice":false},"axis":null},"text":{"field":"t"}}},
{"data":{"values":[{"x":1.2,"y":0.66,"t":"Rᵥ=0"}]},
"mark":{"type":"text","fontSize":13,"align":"center","baseline":"middle","color":"#000"},
"encoding":{"x":{"field":"x","type":"quantitative","scale":{"domain":[0,2.5],"nice":false},"axis":null},"y":{"field":"y","type":"quantitative","scale":{"domain":[0,0.8],"nice":false},"axis":null},"text":{"field":"t"}}}
]},
{"width":139,"height":120,"resolve":{"axis":{"x":"independent","y":"independent"}},
"layer":[
{"data":{"name":"e"},"transform":[{"filter":"datum.k=='c'"}],"mark":{"type":"line","strokeWidth":1.2,"clip":true},
"encoding":{"x":{"field":"x","type":"quantitative","scale":{"domain":[0,2.5],"nice":false},"title":"ρB(fm⁻³)","axis":{"orient":"bottom","values":[0,0.1,0.2,0.3,0.4,0.5,0.6,0.7,0.8,0.9,1,1.1,1.2,1.3,1.4,1.5,1.6,1.7,1.8,1.9,2,2.1,2.2,2.3,2.4,2.5],"labelExpr":"abs(datum.value*2-round(datum.value*2))<0.01 ? format(datum.value,'.1f') : ''"}},
"y":{"field":"y","type":"quantitative","scale":{"domain":[0,4],"nice":false},"title":"γ","axis":{"orient":"left","values":[0,0.2,0.4,0.6,0.8,1,1.2,1.4,1.6,1.8,2,2.2,2.4,2.6,2.8,3,3.2,3.4,3.6,3.8,4],"labelExpr":"abs(datum.value-round(datum.value))<0.01 ? format(datum.value,'d') : ''"}},
"color":{"field":"s","type":"nominal","scale":{"domain":["Rᵢᵥ=0","Rᵢᵥ=1.0","Rᵢᵥ=2.0"],"range":["#1030ff","#ff8c1a","#109a9a"]},"legend":{"orient":"top-right"}},
"strokeDash":{"field":"s","type":"nominal","scale":{"domain":["Rᵢᵥ=0","Rᵢᵥ=1.0","Rᵢᵥ=2.0"],"range":[[1,0],[1.5,1.5],[4,2,1,2]]},"legend":{"orient":"top-right"}},
"detail":{"field":"g"}}},
{"data":{"name":"e"},"transform":[{"filter":"datum.k=='j'"}],"mark":{"type":"line","strokeWidth":1,"strokeDash":[1,1]},
"encoding":{"x":{"field":"x","type":"quantitative","scale":{"domain":[0,2.5],"nice":false},"axis":null},"y":{"field":"y","type":"quantitative","scale":{"domain":[0,4],"nice":false},"axis":null},
"color":{"field":"s","type":"nominal"},"detail":{"field":"g"}}},
{"data":{"name":"e"},"transform":[{"filter":"datum.k=='m'"}],"mark":{"type":"point","shape":"square","filled":true,"size":8,"opacity":1},
"encoding":{"x":{"field":"x","type":"quantitative","scale":{"domain":[0,2.5],"nice":false},"axis":{"orient":"top","labels":false,"title":null,"values":[0,0.1,0.2,0.3,0.4,0.5,0.6,0.7,0.8,0.9,1,1.1,1.2,1.3,1.4,1.5,1.6,1.7,1.8,1.9,2,2.1,2.2,2.3,2.4,2.5]}},
"y":{"field":"y","type":"quantitative","scale":{"domain":[0,4],"nice":false},"axis":{"orient":"right","labels":false,"title":"γ","titlePadding":2,"values":[0,0.2,0.4,0.6,0.8,1,1.2,1.4,1.6,1.8,2,2.2,2.4,2.6,2.8,3,3.2,3.4,3.6,3.8,4]}},
"color":{"field":"s","type":"nominal"}}},
{"data":{"values":[{"v":1.75}]},"mark":{"type":"rule","strokeDash":[3,2],"strokeWidth":0.8,"color":"#888"},
"encoding":{"y":{"field":"v","type":"quantitative","scale":{"domain":[0,4],"nice":false},"axis":null}}},
{"data":{"values":[{"x":0.12,"y":3.8,"t":"(e)"},{"x":2.12,"y":1.9,"t":"γ=1.75"}]},
"mark":{"type":"text","fontSize":5.5,"align":"left","baseline":"middle","color":"#000"},
"encoding":{"x":{"field":"x","type":"quantitative","scale":{"domain":[0,2.5],"nice":false},"axis":null},"y":{"field":"y","type":"quantitative","scale":{"domain":[0,4],"nice":false},"axis":null},"text":{"field":"t"}}}
]}
],"spacing":8}
]
}
